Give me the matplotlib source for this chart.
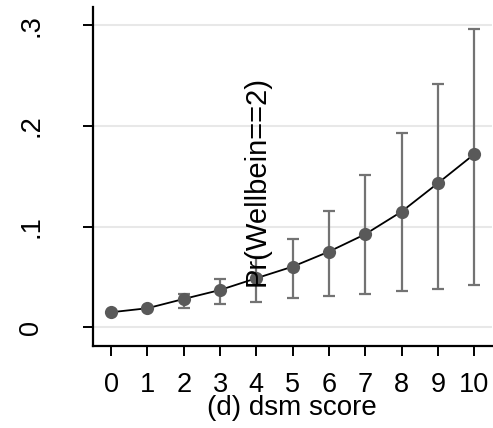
#!/usr/bin/env python3
import matplotlib as mpl
mpl.use("Agg")
import matplotlib.pyplot as plt
import numpy as np

# predicted probability by dsm score, with 95% intervals
scores = np.arange(11)
prob = [0.0149, 0.0189, 0.0281, 0.037, 0.0487, 0.0602, 0.0751,
        0.0924, 0.1148, 0.143, 0.1718]
ci_low = [0.0149, 0.0189, 0.0189, 0.0231, 0.0251, 0.0294, 0.0311,
          0.0334, 0.0360, 0.0377, 0.042]
ci_high = [0.0149, 0.0189, 0.0331, 0.048, 0.070, 0.0877, 0.1155,
           0.1512, 0.1933, 0.2413, 0.2959]
y_ticks = [0, 0.1, 0.2, 0.3]
y_ticklabels = ["0", ".1", ".2", ".3"]


def plot_margins():
    mpl.rcParams['font.family'] = ['Liberation Sans', 'DejaVu Sans']
    fig = plt.figure(figsize=(4.93, 4.28), dpi=100)
    ax = fig.add_axes([0.1886, 0.1916, 0.81, 0.792])

    prob_a = np.array(prob)
    lo = np.array(ci_low)
    hi = np.array(ci_high)
    has_ci = hi - lo > 1e-6
    ax.errorbar(scores[has_ci], prob_a[has_ci],
                yerr=[prob_a[has_ci] - lo[has_ci], hi[has_ci] - prob_a[has_ci]],
                fmt='none', ecolor='#737373', elinewidth=1.6,
                capsize=4.3, capthick=1.6, zorder=2)
    ax.plot(scores, prob_a, color='k', lw=1.3, zorder=3)
    ax.plot(scores, prob_a, 'o', color='#595959', ms=9.5, mec='none',
            zorder=4)

    ax.text(4.0, 0.1455, "Pr(Wellbein==2)", rotation=90, fontsize=21,
            ha='center', va='center', zorder=5)

    ax.set_xlim(-0.5, 10.5)
    ax.set_ylim(-0.0186, 0.318)
    ax.set_xticks(scores)
    ax.set_xticklabels([str(s) for s in scores], fontsize=19.5)
    ax.set_yticks(y_ticks)
    ax.set_yticklabels(y_ticklabels, fontsize=19.5, rotation=90,
                       va='center')
    for y in y_ticks:
        ax.axhline(y, color='#e8e8e8', lw=1.5, zorder=1)

    ax.spines['top'].set_visible(False)
    ax.spines['right'].set_visible(False)
    ax.spines['left'].set_linewidth(1.6)
    ax.spines['bottom'].set_linewidth(1.6)
    ax.tick_params(axis='x', length=7, width=1.4, pad=12)
    ax.tick_params(axis='y', length=7, width=1.4, pad=28)

    fig.text(292 / 493, 1 - 408 / 428, "(d) dsm score", fontsize=20,
             ha='center', va='center')
    fig.savefig("out.png", dpi=100)


def main():
    plot_margins()


if __name__ == '__main__':
    main()
